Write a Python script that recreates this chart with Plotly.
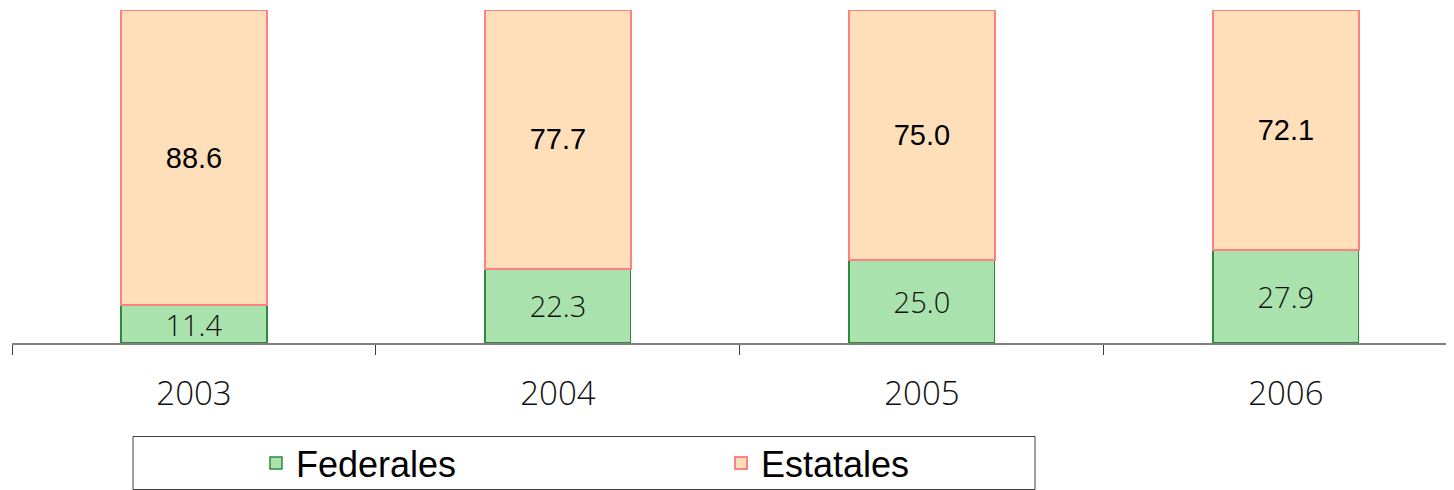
import plotly.graph_objects as go

years = ["2003", "2004", "2005", "2006"]
federales = [11.4, 22.3, 25.0, 27.9]
estatales = [88.6, 77.7, 75.0, 72.1]

thin_font = "Open Sans, Lato, DejaVu Sans, sans-serif"
arial = "Liberation Sans, Arial, sans-serif"

fig = go.Figure()

fig.add_trace(go.Bar(
    x=years, y=federales, name="Federales",
    marker=dict(color="#a9e2ac", line=dict(color="#2e8b3a", width=1.5)),
    texttemplate="%{y:.1f}", textposition="inside", insidetextanchor="middle",
    textfont=dict(family=thin_font, size=29, color="#111111", weight=300),
    width=0.4,
))
fig.add_trace(go.Bar(
    x=years, y=estatales, name="Estatales",
    marker=dict(color="#ffdfba", line=dict(color="#ff8080", width=2)),
    texttemplate="%{y:.1f}", textposition="inside", insidetextanchor="middle",
    textfont=dict(family=arial, size=29, color="#000000"),
    width=0.4,
))

# legend frame (page is offset by the 8px body margin)
fig.add_shape(type="rect", xref="paper", yref="paper",
              x0=(133 - 12) / 1442, x1=(1035 - 12) / 1442,
              y0=(343 - 436.5) / 333, y1=(343 - 489.5) / 333,
              line=dict(color="#404040", width=1), fillcolor="rgba(0,0,0,0)")

fig.update_layout(
    width=1446, height=482,
    barmode="stack",
    plot_bgcolor="white", paper_bgcolor="white",
    margin=dict(l=4, r=0, t=2, b=147),
    uniformtext=dict(minsize=29, mode="show"),
    showlegend=True,
    legend=dict(
        orientation="h", xref="container", yref="container",
        x=248 / 1446, xanchor="left", y=27 / 482, yanchor="middle",
        entrywidth=420, entrywidthmode="pixels",
        font=dict(family=arial, size=36, color="#000000"),
        bgcolor="rgba(0,0,0,0)", traceorder="normal",
    ),
    xaxis=dict(
        type="category", range=[-0.5, 3.462],
        showline=True, linecolor="#808080", linewidth=2,
        ticks="outside", tickson="boundaries", ticklen=10, tickcolor="#404040",
        tickfont=dict(family=thin_font, size=33, color="#111111", weight=300),
        ticklabelstandoff=20,
        showgrid=False, zeroline=False,
    ),
    yaxis=dict(range=[0, 100], visible=False, showgrid=False, zeroline=False),
)

fig.write_html("out.html")
